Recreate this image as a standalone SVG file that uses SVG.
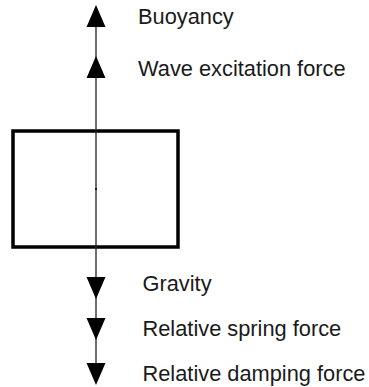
<svg xmlns="http://www.w3.org/2000/svg" width="369" height="387" viewBox="0 0 369 387">
<style>
.lbl{font-family:"Liberation Sans",Arial,Helvetica,sans-serif;font-size:21.8px;fill:#1a1a1a}
.ah{fill:#000}
</style>
<rect width="369" height="387" fill="#fff"/>
<g id="body">
<rect x="13" y="131" width="165" height="116" fill="none" stroke="#000" stroke-width="3.5"/>
<rect x="95" y="188" width="2" height="2" fill="#000"/>
</g>
<g id="connectors">
<line x1="96" y1="8" x2="96" y2="383" stroke="#222" stroke-width="1.3"/>
<polygon class="ah" points="96,5 105.5,27 86.5,27"/>
<polygon class="ah" points="96,56 105.5,78 86.5,78"/>
<polygon class="ah" points="86.5,277 105.5,277 96,299"/>
<polygon class="ah" points="86.5,318 105.5,318 96,340"/>
<polygon class="ah" points="86.5,363 105.5,363 96,385"/>
</g>
<g id="labels">
<text class="lbl" x="138" y="24">Buoyancy</text>
<text class="lbl" x="138" y="76">Wave excitation force</text>
<text class="lbl" x="142.5" y="291">Gravity</text>
<text class="lbl" x="142.5" y="336">Relative spring force</text>
<text class="lbl" x="142.5" y="381">Relative damping force</text>
</g>
</svg>
